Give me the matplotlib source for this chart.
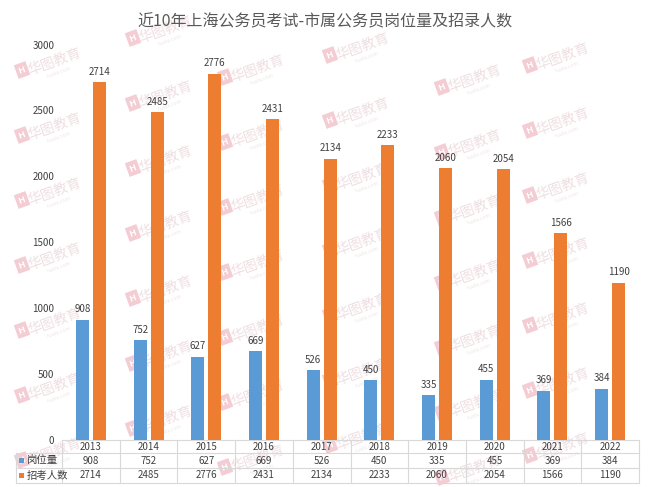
import matplotlib
matplotlib.use("Agg")
import matplotlib.pyplot as plt
from matplotlib.transforms import blended_transform_factory
from matplotlib.patches import Rectangle
import numpy as np

plt.rcParams['font.family'] = ['Noto Sans CJK SC', 'DejaVu Sans']

years = ['2013', '2014', '2015', '2016', '2017', '2018', '2019', '2020', '2021', '2022']
posts = [908, 752, 627, 669, 526, 450, 335, 455, 369, 384]
recruits = [2714, 2485, 2776, 2431, 2134, 2233, 2060, 2054, 1566, 1190]
series_names = ['岗位量', '招考人数']
title = '近10年上海公务员考试-市属公务员岗位量及招录人数'
yticks = [0, 500, 1000, 1500, 2000, 2500, 3000]

blue = '#5B9BD5'
orange = '#ED7D31'
txt = '#404040'
grid_c = '#D9D9D9'

W, H = 650, 487
fig = plt.figure(figsize=(6.5, 4.87), dpi=100)

# watermarks (decorative, faint, behind the chart)
wm_cols = [(22, 5), (133, 38), (225, 12), (330, 55), (442, 22), (530, 0), (640, 38)]
for cx, y0 in wm_cols:
    for k in range(8):
        cy = y0 + 65 * k
        if cx - 10 < 0 or cx + 70 > W or cy - 28 < 0 or cy + 10 > H:
            continue
        fig.text(cx / W, 1 - cy / H, 'H', fontsize=6.5, color='white', fontweight='bold',
                 ha='center', va='center', rotation=20,
                 bbox=dict(boxstyle='square,pad=0.3', facecolor='#F3CDD3', edgecolor='none'),
                 zorder=0)
        fig.text((cx + 33) / W, 1 - (cy - 8) / H, '华图教育', fontsize=10, color='#EFDFE2',
                 ha='center', va='center', rotation=20, zorder=0)
        fig.text((cx + 37) / W, 1 - (cy + 2) / H, 'huatu.com', fontsize=3.5, color='#F0E4E6',
                 ha='center', va='center', rotation=20, zorder=0)

ax_left, ax_right = 62, 639
ax_top, ax_bottom = 44.5, 439.5
ax = fig.add_axes([ax_left / W, 1 - ax_bottom / H, (ax_right - ax_left) / W, (ax_bottom - ax_top) / H])
ax.patch.set_alpha(0)
ax.set_zorder(1)

x = np.arange(len(years))
bw = 0.225
off = 0.147
b1 = ax.bar(x - off, posts, bw, color=blue, zorder=3)
b2 = ax.bar(x + off, recruits, bw, color=orange, zorder=3)
for bars, vals in ((b1, posts), (b2, recruits)):
    for r, v in zip(bars, vals):
        ax.annotate(str(v), (r.get_x() + r.get_width() / 2, v), xytext=(0, 4),
                    textcoords='offset points', ha='center', va='bottom',
                    fontsize=7, color=txt, zorder=4)

ax.set_xlim(-0.5, len(years) - 0.5)
ax.set_ylim(0, 3000)
ax.set_yticks(yticks)
ax.set_yticklabels([str(t) for t in yticks])
ax.tick_params(axis='y', length=0, pad=5.5, labelsize=7, labelcolor=txt)
ax.set_xticks([])
for s in ax.spines.values():
    s.set_visible(False)

fig.text(0.5, 1 - 22 / H, title, ha='center', va='center', fontsize=11.5, color='#595959', zorder=5)

# data table
tr = blended_transform_factory(ax.transData, ax.transAxes)
def ya(px):
    return (ax_bottom - px) / (ax_bottom - ax_top)

n = len(years)
colw = (ax_right - ax_left) / n
row_lines = [440, 453, 468, 483]
label_left = -0.5 - (ax_left - 16) / colw
ax.plot([-0.5, n - 0.5], [ya(440)] * 2, color=grid_c, lw=0.8, transform=tr, clip_on=False)
for yp in row_lines[1:]:
    ax.plot([label_left, n - 0.5], [ya(yp)] * 2, color=grid_c, lw=0.8, transform=tr, clip_on=False)
for k in range(n + 1):
    ax.plot([k - 0.5] * 2, [ya(440), ya(483)], color=grid_c, lw=0.8, transform=tr, clip_on=False)
ax.plot([label_left] * 2, [ya(453), ya(483)], color=grid_c, lw=0.8, transform=tr, clip_on=False)

for i, yr in enumerate(years):
    ax.text(i, ya(446.5), yr, ha='center', va='center', fontsize=7, color=txt, transform=tr)
    ax.text(i, ya(460.5), str(posts[i]), ha='center', va='center', fontsize=7, color=txt, transform=tr)
    ax.text(i, ya(475.5), str(recruits[i]), ha='center', va='center', fontsize=7, color=txt, transform=tr)

for name, col, yp in ((series_names[0], blue, 460.5), (series_names[1], orange, 475.5)):
    sx = -0.5 - (ax_left - 19) / colw
    sq = Rectangle((sx, ya(yp + 2.5)), 5 / colw, 5 / (ax_bottom - ax_top),
                   transform=tr, facecolor=col, edgecolor='none', clip_on=False)
    ax.add_patch(sq)
    ax.text(-0.5 - (ax_left - 27) / colw, ya(yp), name, ha='left', va='center',
            fontsize=7.5, color=txt, transform=tr)

fig.savefig('out.png', dpi=100)
